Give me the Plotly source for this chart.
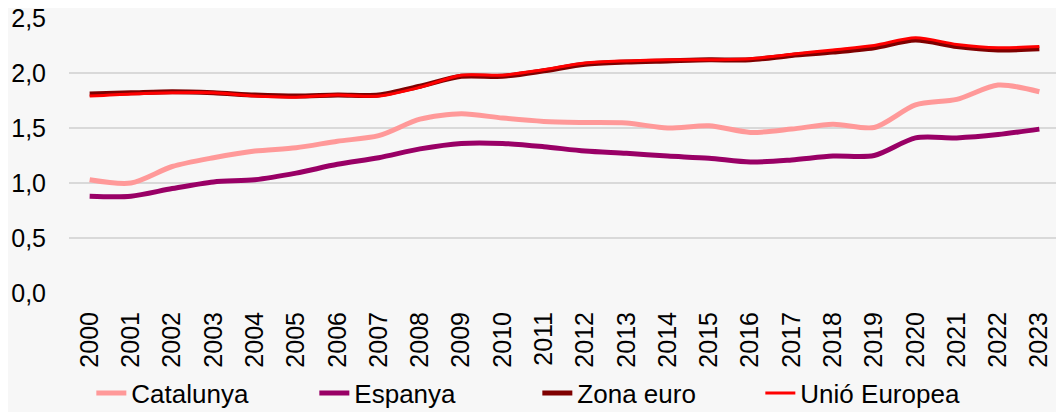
import plotly.graph_objects as go

years = [str(y) for y in range(2000, 2024)]
catalunya = [1.03, 1.00, 1.15, 1.23, 1.29, 1.32, 1.38, 1.43, 1.58, 1.63, 1.59, 1.56,
             1.55, 1.545, 1.50, 1.52, 1.46, 1.49, 1.535, 1.505, 1.71, 1.76, 1.89, 1.83]
espanya = [0.88, 0.88, 0.95, 1.01, 1.03, 1.09, 1.17, 1.23, 1.31, 1.36, 1.36, 1.33,
           1.29, 1.27, 1.245, 1.225, 1.19, 1.21, 1.245, 1.25, 1.41, 1.41, 1.44, 1.49]
zona_euro = [1.81, 1.82, 1.83, 1.82, 1.80, 1.79, 1.80, 1.80, 1.88, 1.97, 1.97, 2.02,
             2.08, 2.10, 2.11, 2.12, 2.12, 2.16, 2.19, 2.23, 2.30, 2.24, 2.21, 2.22]
unio_europea = [1.79, 1.81, 1.82, 1.82, 1.79, 1.78, 1.80, 1.79, 1.87, 1.98, 1.98, 2.03,
                2.09, 2.11, 2.12, 2.12, 2.13, 2.17, 2.21, 2.25, 2.32, 2.26, 2.23, 2.24]

series = [
    ("Catalunya", catalunya, "#ff9999", 5),
    ("Espanya", espanya, "#990066", 5),
    ("Zona euro", zona_euro, "#7f0000", 5),
    ("Unió Europea", unio_europea, "#ff0000", 3),
]

fig = go.Figure()
for name, vals, color, w in series:
    fig.add_trace(go.Scatter(
        x=years, y=vals, name=name, mode="lines",
        line=dict(color=color, width=w, shape="spline", smoothing=0.8),
    ))

font = dict(family="Liberation Sans, Arial, sans-serif", size=25, color="#000000")
legend_font = dict(family="Liberation Sans, Arial, sans-serif", size=26, color="#000000")
fig.update_layout(
    width=1064, height=412,
    margin=dict(l=61, r=12, t=10, b=127, autoexpand=False),
    paper_bgcolor="#f7f7f7", plot_bgcolor="#f7f7f7",
    font=font,
    showlegend=True,
    legend=dict(orientation="h", xref="container", x=0.4975, xanchor="center",
                yref="container", y=0.065, yanchor="middle",
                font=legend_font, itemwidth=30, traceorder="normal", entrywidth=178,
                bgcolor="rgba(0,0,0,0)"),
    xaxis=dict(type="category", tickangle=-90, showgrid=False, zeroline=False,
               showline=False, ticks="", tickfont=font, range=[-0.5, 23.5],
               ticklabelstandoff=13, automargin=False),
    yaxis=dict(range=[0, 2.5], dtick=0.5, tickformat=".1f", showgrid=True,
               gridcolor="#d9d9d9", gridwidth=1.5, zeroline=False, showline=False,
               ticks="", tickfont=font, ticklabelstandoff=22,
               ticklabeloverflow="allow", automargin=False),
    separators=",.",
)

fig.write_html("out.html")
